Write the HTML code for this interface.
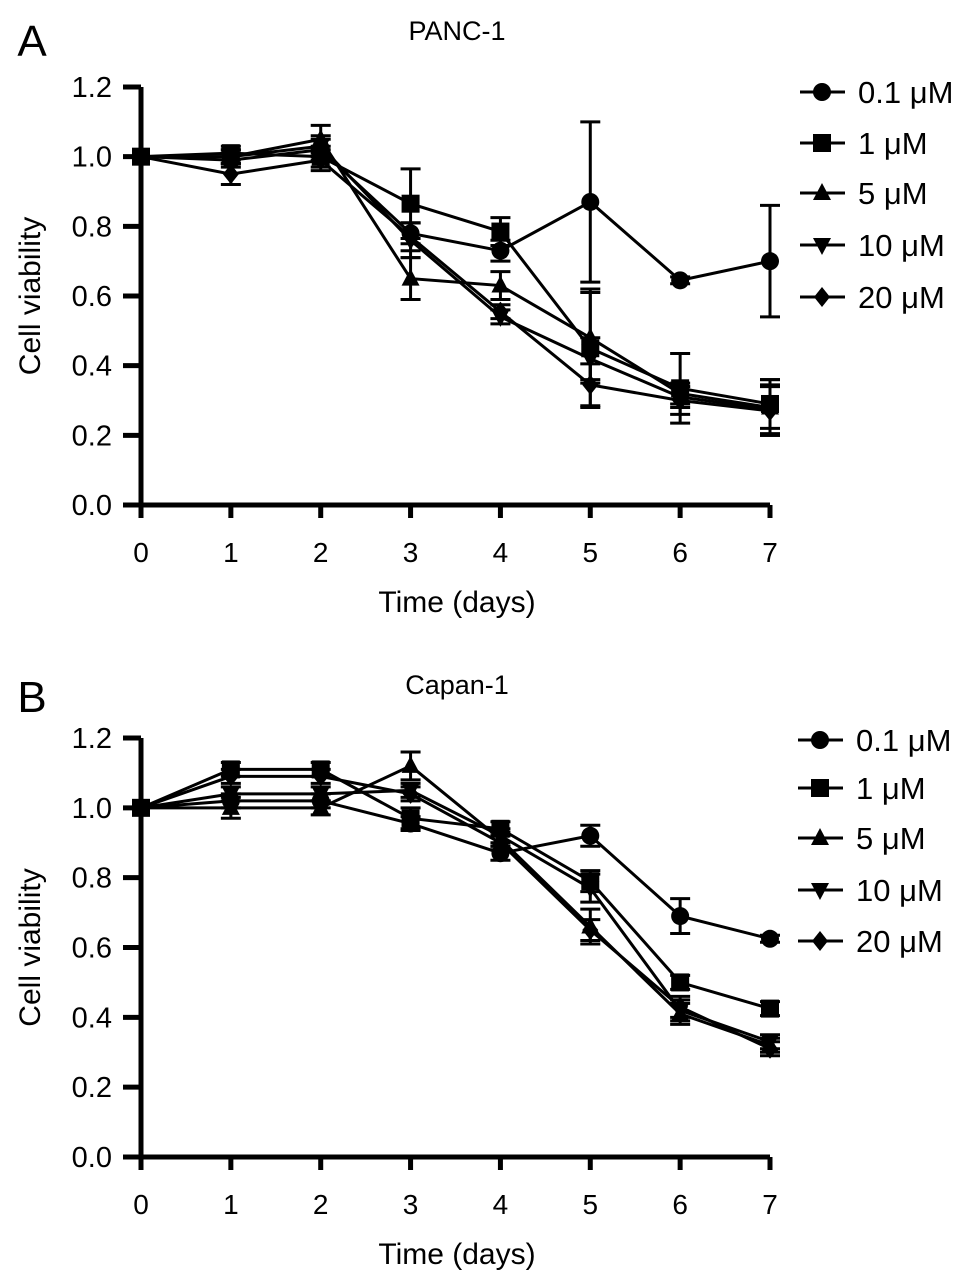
<!DOCTYPE html>
<html><head><meta charset="utf-8"><style>
body{margin:0;background:#fff}
svg text{font-family:"Liberation Sans",sans-serif;fill:#000}
</style></head><body>
<svg id="s" width="969" height="1282" xmlns="http://www.w3.org/2000/svg"></svg>
<script>
const days=[0,1,2,3,4,5,6,7];
const yTicks=[0,0.2,0.4,0.6,0.8,1.0,1.2];
const series=["0.1 μM","1 μM","5 μM","10 μM","20 μM"];
const markers=["circle","square","triangle","down","diamond"];
const aMean0=[1,0.99,1.02,0.78,0.73,0.87,0.645,0.70];
const aMean1=[1,1.01,1.0,0.865,0.785,0.45,0.335,0.29];
const aMean2=[1,1.0,1.05,0.65,0.63,0.48,0.32,0.28];
const aMean3=[1,1.0,1.03,0.76,0.54,0.42,0.31,0.275];
const aMean4=[1,0.95,0.99,0.77,0.555,0.345,0.30,0.27];
const aErr0=[0,0.02,0.03,0.03,0.03,0.23,0.01,0.16];
const aErr1=[0,0.02,0.03,0.10,0.04,0.17,0.10,0.07];
const aErr2=[0,0.02,0.04,0.06,0.04,0.13,0.03,0.08];
const aErr3=[0,0.02,0.03,0.05,0.02,0.06,0.03,0.07];
const aErr4=[0,0.03,0.03,0.04,0.02,0.06,0.04,0.07];
const bMean0=[1,1.02,1.02,0.955,0.87,0.92,0.69,0.625];
const bMean1=[1,1.11,1.11,0.97,0.94,0.79,0.50,0.425];
const bMean2=[1,1.0,1.0,1.12,0.91,0.66,0.41,0.32];
const bMean3=[1,1.04,1.04,1.05,0.92,0.77,0.42,0.33];
const bMean4=[1,1.09,1.09,1.04,0.90,0.65,0.43,0.31];
const bErr0=[0,0.02,0.02,0.02,0.02,0.03,0.05,0.01];
const bErr1=[0,0.02,0.02,0.03,0.02,0.03,0.02,0.02];
const bErr2=[0,0.03,0.02,0.04,0.02,0.05,0.03,0.02];
const bErr3=[0,0.02,0.02,0.02,0.02,0.04,0.03,0.02];
const bErr4=[0,0.02,0.02,0.02,0.02,0.03,0.03,0.02];

const S=document.getElementById('s');
const NS='http://www.w3.org/2000/svg';
function mk(t,a,p){const e=document.createElementNS(NS,t);for(const k in a)e.setAttribute(k,a[k]);(p||S).appendChild(e);return e;}
function txt(x,y,s,size,anchor,p){const e=mk('text',{x:x,y:y,'font-size':size,'text-anchor':anchor||'middle'},p);e.textContent=s;return e;}
function marker(type,x,y,p,r){r=r||8;let e;
 if(type==='circle')e=mk('circle',{cx:x,cy:y,r:r},p);
 else if(type==='square')e=mk('rect',{x:x-r,y:y-r,width:2*r,height:2*r},p);
 else if(type==='triangle')e=mk('polygon',{points:`${x},${y-r-1} ${x-r},${y+r-2} ${x+r},${y+r-2}`},p);
 else if(type==='down')e=mk('polygon',{points:`${x},${y+r+1} ${x-r},${y-r+2} ${x+r},${y-r+2}`},p);
 else e=mk('polygon',{points:`${x},${y-r-1} ${x+r-1},${y} ${x},${y+r+1} ${x-r+1},${y}`},p);
 e.setAttribute('fill','#000');return e;}

function panel(cfg){
 const g=mk('g',{});
 
 
 const x0=141,x1=770,yb=cfg.y0,yt=cfg.y12;
 const X=d=>x0+(x1-x0)*d/7;
 const Y=v=>yb+(yt-yb)*v/1.2;
 const lt=txt(32,cfg.letterY,cfg.letter,44,'middle',g);
 
 const tt=txt(457,cfg.titleY,cfg.title,27,'middle',g);
 
 const ax=mk('path',{d:`M${x0},${yt} V${yb} H${x1}`,stroke:'#000','stroke-width':5,fill:'none'},g);
 
 yTicks.forEach(v=>{mk('line',{x1:x0-18,x2:x0,y1:Y(v),y2:Y(v),stroke:'#000','stroke-width':5},g);
  const l=txt(112,Y(v)+10,v.toFixed(1),29,'end',g);
  });
 days.forEach(d=>{mk('line',{x1:X(d),x2:X(d),y1:yb,y2:yb+13,stroke:'#000','stroke-width':5},g);
  const l=txt(X(d),yb+57,String(d),28,'middle',g);
  });
 const xl=txt(457,yb+107,'Time (days)',30,'middle',g);
 
 const yc=(yb+yt)/2;
 const yl=txt(0,0,'Cell viability',30,'middle',g);
 yl.setAttribute('transform',`translate(40,${yc}) rotate(-90)`);
 
 cfg.means.forEach((m,i)=>{
  const sg=mk('g',{},g);
  
  
  mk('polyline',{points:m.map((v,j)=>X(days[j])+','+Y(v)).join(' '),fill:'none',stroke:'#000','stroke-width':3},sg);
  m.forEach((v,j)=>{const e=cfg.errs[i][j];if(e>0){
   mk('path',{d:`M${X(days[j])},${Y(v+e)}V${Y(v-e)}M${X(days[j])-10},${Y(v+e)}h20M${X(days[j])-10},${Y(v-e)}h20`,stroke:'#000','stroke-width':3,fill:'none'},sg);}
   const mm=marker(markers[i],X(days[j]),Y(v),sg,9);
   
   });
 });
 series.forEach((s,i)=>{const ly=cfg.legY[i];
  const lg=mk('g',{},g);
  
  
  mk('line',{x1:cfg.legX,x2:cfg.legX+45,y1:ly,y2:ly,stroke:'#000','stroke-width':3},lg);
  marker(markers[i],cfg.legX+22,ly,lg,9);
  txt(cfg.legX+58,ly+11,s,31,'start',lg);});
}
panel({name:'panel-a-panc1',letter:'A',letterY:56,title:'PANC-1',titleY:40,y0:505,y12:87,means:[aMean0,aMean1,aMean2,aMean3,aMean4],errs:[aErr0,aErr1,aErr2,aErr3,aErr4],legX:800,legY:[92,143,193,245,297]});
panel({name:'panel-b-capan1',letter:'B',letterY:712,title:'Capan-1',titleY:694,y0:1157,y12:738,means:[bMean0,bMean1,bMean2,bMean3,bMean4],errs:[bErr0,bErr1,bErr2,bErr3,bErr4],legX:798,legY:[740,788,838,890,941]});
</script>
</body></html>
